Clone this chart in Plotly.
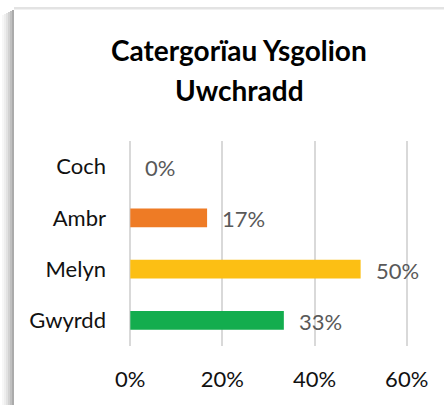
import plotly.graph_objects as go

categories = ["Coch", "Ambr", "Melyn", "Gwyrdd"]
values = [0.0, 0.1667, 0.5, 0.3333]
value_labels = ["0%", "17%", "50%", "33%"]
bar_colors = ["#E8403A", "#EE7B25", "#FCBF14", "#13AD4E"]
x_ticks = [0, 0.2, 0.4, 0.6]
x_tick_labels = ["0%", "20%", "40%", "60%"]
title_lines = ["Catergorïau Ysgolion", "Uwchradd"]

W, H = 444, 405
L, R, T, B = 128, 35, 141, 59
FONT = "Lato"

fig = go.Figure()
fig.add_trace(go.Bar(
    x=values, y=categories, orientation="h",
    marker=dict(color=bar_colors, line=dict(width=0)),
    hoverinfo="skip",
))

# value labels
for c, v, t in zip(categories, values, value_labels):
    fig.add_annotation(x=v, y=c, text=t, showarrow=False, xanchor="left",
                       xshift=13, yshift=-1,
                       font=dict(family=FONT, size=22, color="#595959"))

pw = W - L - R
ph = H - T - B
def px(xp):
    return (xp - L) / pw
def py(yp):
    return 1 - (yp - T) / ph

# title
fig.add_annotation(xref="paper", yref="paper", x=px(239), y=py(50), text="<b>%s</b>" % title_lines[0],
                   showarrow=False, xanchor="center", yanchor="middle",
                   font=dict(family=FONT, size=28, color="#000000"))
fig.add_annotation(xref="paper", yref="paper", x=px(239), y=py(90), text="<b>%s</b>" % title_lines[1],
                   showarrow=False, xanchor="center", yanchor="middle",
                   font=dict(family=FONT, size=28, color="#000000"))

# card shadow (decoration)
shades = ["#F7F7F7", "#EEEEEE", "#E2E2E2", "#D2D2D2", "#C0C0C0", "#ABABAB"]
for i, col in enumerate(shades):
    x0 = 2 + i * 2
    fig.add_shape(type="rect", xref="paper", yref="paper",
                  x0=px(x0), x1=px(x0 + 2), y0=py(H), y1=py(10 + (5 - i)),
                  fillcolor=col, line=dict(width=0), layer="below")
fig.add_shape(type="rect", xref="paper", yref="paper",
              x0=px(14), x1=px(W), y0=py(9.5), y1=py(7),
              fillcolor="#E3E3E3", line=dict(width=0), layer="below")

fig.update_layout(
    width=W, height=H,
    margin=dict(l=L, r=R, t=T, b=B, autoexpand=False),
    paper_bgcolor="white", plot_bgcolor="rgba(0,0,0,0)",
    showlegend=False,
    bargap=0.63,
    font=dict(family=FONT),
)
fig.update_xaxes(range=[-0.005, 0.605], tickvals=x_ticks, ticktext=x_tick_labels,
                 showgrid=True, gridcolor="#D9D9D9", gridwidth=1.5,
                 zeroline=False, showline=False, ticks="", automargin=False,
                 ticklabelstandoff=18,
                 tickfont=dict(family=FONT, size=22, color="#111111"), fixedrange=True)
fig.update_yaxes(categoryorder="array", categoryarray=categories[::-1],
                 showgrid=False, zeroline=False, showline=False, ticks="", automargin=False,
                 ticklabelstandoff=21,
                 tickfont=dict(family=FONT, size=22, color="#111111"), fixedrange=True)

fig.write_html("out.html", config={"displayModeBar": False},
               post_script="document.body.style.margin='0';document.body.style.overflow='hidden';")
